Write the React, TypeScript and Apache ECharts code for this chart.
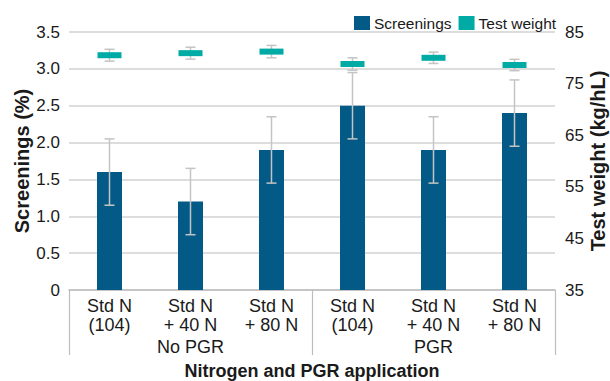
import React, { useEffect, useRef } from "react";
import * as echarts from "echarts";

const categories = ["Std N\n(104)", "Std N\n+ 40 N", "Std N\n+ 80 N", "Std N\n(104)", "Std N\n+ 40 N", "Std N\n+ 80 N"];
const groups = ["No PGR", "PGR"];
const screenings = [1.6, 1.2, 1.9, 2.5, 1.9, 2.4];
const screeningsErr = [0.45, 0.45, 0.45, 0.45, 0.45, 0.45];
const testWeight = [80.5, 80.9, 81.2, 78.8, 80.0, 78.6];
const testWeightErr = [1.15, 1.15, 1.2, 1.2, 1.1, 1.1];
const leftTicks = { min: 0, max: 3.5, interval: 0.5 };
const rightTicks = { min: 35, max: 85, interval: 10 };

const BLUE = "#035a86";
const TEAL = "#00aba6";
const ERR = "#c4c4c4";
const FONT = "'Liberation Sans', Arial, Helvetica, sans-serif";
const TXT = "#1a1a1a";

export default function App() {
  const ref = useRef<HTMLDivElement>(null);
  useEffect(() => {
    document.body.style.margin = "0";
    const chart = echarts.init(ref.current!, null, { renderer: "svg" });

    const errItem = (params: any, api: any) => {
      const x = api.value(0);
      const top = api.coord([x, api.value(1)]);
      const bot = api.coord([x, api.value(2)]);
      const cap = 5;
      return {
        type: "group",
        children: [
          { type: "line", shape: { x1: top[0], y1: top[1], x2: bot[0], y2: bot[1] }, style: { stroke: ERR, lineWidth: 1.5 } },
          { type: "line", shape: { x1: top[0] - cap, y1: top[1], x2: top[0] + cap, y2: top[1] }, style: { stroke: ERR, lineWidth: 1.5 } },
          { type: "line", shape: { x1: bot[0] - cap, y1: bot[1], x2: bot[0] + cap, y2: bot[1] }, style: { stroke: ERR, lineWidth: 1.5 } },
        ],
      };
    };

    const twItem = (params: any, api: any) => {
      const g: any = errItem(params, api);
      const c = api.coord([api.value(0), api.value(3)]);
      g.children.push({ type: "rect", shape: { x: c[0] - 12, y: c[1] - 3, width: 24, height: 6 }, style: { fill: TEAL } });
      return g;
    };

    chart.setOption({
      animation: false,
      textStyle: { fontFamily: FONT, color: TXT },
      legend: {
        data: ["Screenings", "Test weight"],
        left: 349,
        top: 10,
        icon: "rect",
        itemWidth: 16,
        itemHeight: 14,
        itemGap: 7,
        textStyle: { fontFamily: FONT, fontSize: 15.5, color: TXT, padding: [0, 0, 0, -1] },
      },
      grid: { left: 69, right: 55, top: 32, bottom: 91, containLabel: false, outerBoundsMode: "none" },
      xAxis: [
        {
          type: "category",
          data: categories,
          axisLine: { lineStyle: { color: "#bdbdbd", width: 1.5 } },
          axisTick: { show: false },
          axisLabel: { interval: 0, fontSize: 18, lineHeight: 19, margin: 6, color: TXT, fontFamily: FONT },
        },
        {
          type: "category",
          data: groups,
          position: "bottom",
          axisLine: { show: false },
          axisTick: { show: true, length: 65, lineStyle: { color: "#bdbdbd", width: 1.2 } },
          axisLabel: { fontSize: 18, margin: 48, color: TXT, fontFamily: FONT },
          name: "Nitrogen and PGR application",
          nameLocation: "middle",
          nameGap: 72,
          nameMoveOverlap: false,
          nameTextStyle: { fontWeight: "bold", fontSize: 18, color: TXT, fontFamily: FONT },
        },
      ],
      yAxis: [
        {
          type: "value",
          ...leftTicks,
          axisLine: { show: false },
          axisTick: { show: false },
          splitLine: { lineStyle: { color: "#d2d2d2", width: 1.5 } },
          axisLabel: {
            fontSize: 17,
            margin: 9,
            color: TXT,
            fontFamily: FONT,
            formatter: (v: number) => (v === 0 ? "0" : v.toFixed(1)),
          },
          name: "Screenings (%)",
          nameLocation: "middle",
          nameRotate: 90,
          nameGap: 37,
          nameMoveOverlap: false,
          nameTextStyle: { fontWeight: "bold", fontSize: 20, color: TXT, fontFamily: FONT },
        },
        {
          type: "value",
          position: "right",
          ...rightTicks,
          axisLine: { show: false },
          axisTick: { show: false },
          splitLine: { show: false },
          axisLabel: { fontSize: 17, margin: 10, color: TXT, fontFamily: FONT },
          name: "Test weight (kg/hL)",
          nameLocation: "middle",
          nameRotate: 90,
          nameGap: 33,
          nameMoveOverlap: false,
          nameTextStyle: { fontWeight: "bold", fontSize: 20, color: TXT, fontFamily: FONT },
        },
      ],
      series: [
        {
          name: "Screenings",
          type: "bar",
          data: screenings,
          barWidth: 25,
          itemStyle: { color: BLUE },
          xAxisIndex: 0,
          yAxisIndex: 0,
        },
        {
          name: "Screenings error",
          type: "custom",
          xAxisIndex: 0,
          yAxisIndex: 0,
          renderItem: errItem,
          encode: { x: 0, y: [1, 2] },
          data: screenings.map((v, i) => [i, v + screeningsErr[i], v - screeningsErr[i]]),
          z: 5,
        },
        {
          name: "Test weight",
          type: "custom",
          xAxisIndex: 0,
          yAxisIndex: 1,
          itemStyle: { color: TEAL },
          renderItem: twItem,
          encode: { x: 0, y: [1, 2, 3] },
          data: testWeight.map((v, i) => [i, v + testWeightErr[i], v - testWeightErr[i], v]),
          z: 6,
        },
      ],
    });
    return () => chart.dispose();
  }, []);
  return <div ref={ref} style={{ width: 610, height: 381 }} />;
}
